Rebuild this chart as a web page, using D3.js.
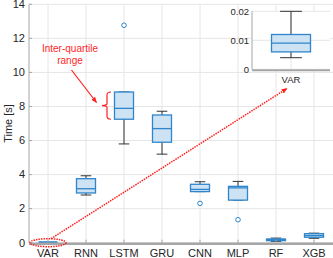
<!DOCTYPE html>
<html>
<head>
<meta charset="utf-8">
<script src="https://cdn.jsdelivr.net/npm/d3@7"></script>
<style>
  body { margin: 0; background: #fff; }
  text { font-family: "Liberation Sans", Arial, sans-serif; fill: #262626; }
</style>
</head>
<body>
<div id="chart"></div>
<script>
// box stats: [lower whisker, q1, median, q3, upper whisker]
let models = ["VAR", "RNN", "LSTM", "GRU", "CNN", "MLP", "RF", "XGB"]
let lowW = [0.004, 2.80, 5.80, 5.20, 3.00, 2.50, 0.08, 0.26]
let q1 = [0.006, 2.92, 7.25, 5.90, 3.00, 2.50, 0.12, 0.32]
let med = [0.009, 3.17, 7.89, 6.70, 3.13, 3.22, 0.18, 0.42]
let q3 = [0.012, 3.76, 8.85, 7.50, 3.43, 3.31, 0.22, 0.53]
let highW = [0.020, 3.93, 8.85, 7.72, 3.58, 3.60, 0.27, 0.56]
let outliers = [[], [], [12.77], [], [2.31], [1.35], [], []]
let yTicks = [0, 2, 4, 6, 8, 10, 12, 14]
let insetTicks = [0, 0.01, 0.02]

let W = 333, H = 258
let blue = "#2f86cc", fill = "#cde2f3", red = "#ff1f1f", grid = "#e6e6e6"

let svg = d3.select("#chart").append("svg").attr("width", W).attr("height", H)

let defs = svg.append("defs")
defs.append("marker").attr("id", "ah").attr("viewBox", "0 0 10 10")
  .attr("refX", 9).attr("refY", 5).attr("markerWidth", 6).attr("markerHeight", 6)
  .attr("orient", "auto").attr("markerUnits", "userSpaceOnUse")
  .append("path").attr("d", "M0,1L10,5L0,9Z").attr("fill", red)

let x = d3.scaleLinear().domain([0.5, 8.5]).range([29, 333])
let y = d3.scaleLinear().domain([0, 14]).range([242.7, 4.3])

// grid
svg.append("g").selectAll("line").data(yTicks).join("line")
  .attr("x1", x(0.5)).attr("x2", x(8.5)).attr("y1", d => y(d)).attr("y2", d => y(d))
  .attr("stroke", grid)
svg.append("g").selectAll("line").data(models).join("line")
  .attr("x1", (d, i) => x(i + 1)).attr("x2", (d, i) => x(i + 1))
  .attr("y1", y(0)).attr("y2", y(14)).attr("stroke", grid)

function drawBoxes(g, xs, ys, idx, cap, bw) {
  let b = g.selectAll("g.box").data(idx).join("g").attr("class", "box")
  b.append("line").attr("x1", i => xs(i + 1)).attr("x2", i => xs(i + 1))
    .attr("y1", i => ys(highW[i])).attr("y2", i => ys(lowW[i])).attr("stroke", "#333").attr("stroke-width", 1)
  b.append("line").attr("x1", i => xs(i + 1 - cap)).attr("x2", i => xs(i + 1 + cap))
    .attr("y1", i => ys(highW[i])).attr("y2", i => ys(highW[i])).attr("stroke", "#333")
  b.append("line").attr("x1", i => xs(i + 1 - cap)).attr("x2", i => xs(i + 1 + cap))
    .attr("y1", i => ys(lowW[i])).attr("y2", i => ys(lowW[i])).attr("stroke", "#333")
  b.append("rect").attr("x", i => xs(i + 1 - bw)).attr("width", i => xs(i + 1 + bw) - xs(i + 1 - bw))
    .attr("y", i => ys(q3[i])).attr("height", i => Math.max(ys(q1[i]) - ys(q3[i]), 1.5))
    .attr("fill", fill).attr("stroke", blue).attr("stroke-width", 1.3)
  b.append("line").attr("x1", i => xs(i + 1 - bw)).attr("x2", i => xs(i + 1 + bw))
    .attr("y1", i => ys(med[i])).attr("y2", i => ys(med[i])).attr("stroke", blue).attr("stroke-width", 1.3)
}

let main = svg.append("g")
drawBoxes(main, x, y, d3.range(1, 8), 0.14, 0.25)
// VAR is flat at this scale
main.append("line").attr("x1", x(0.75)).attr("x2", x(1.25)).attr("y1", y(0) - 0.5).attr("y2", y(0) - 0.5)
  .attr("stroke", blue).attr("stroke-width", 2)

let out = []
outliers.forEach((o, i) => o.forEach(v => out.push([i + 1, v])))
main.selectAll("circle").data(out).join("circle")
  .attr("cx", d => x(d[0])).attr("cy", d => y(d[1])).attr("r", 2.3)
  .attr("fill", "#fff").attr("stroke", blue).attr("stroke-width", 1)

// axes
svg.append("line").attr("x1", x(0.5)).attr("x2", x(0.5)).attr("y1", y(0)).attr("y2", y(14)).attr("stroke", "#a6a6a6")
svg.append("line").attr("x1", x(0.5)).attr("x2", x(8.5)).attr("y1", y(0) + 1).attr("y2", y(0) + 1)
  .attr("stroke", "#a6a6a6").attr("stroke-width", 2.5)
svg.append("g").selectAll("line").data(yTicks).join("line")
  .attr("x1", x(0.5)).attr("x2", x(0.5) + 3).attr("y1", d => y(d)).attr("y2", d => y(d)).attr("stroke", "#a6a6a6")
svg.append("g").selectAll("line").data(models).join("line")
  .attr("x1", (d, i) => x(i + 1)).attr("x2", (d, i) => x(i + 1))
  .attr("y1", y(0)).attr("y2", y(0) - 3).attr("stroke", "#a6a6a6")
svg.append("g").selectAll("text").data(yTicks).join("text")
  .attr("x", x(0.5) - 4).attr("y", d => y(d)).attr("dy", "0.35em")
  .attr("text-anchor", "end").style("font-size", "11px").text(d => d)
svg.append("g").selectAll("text").data(models).join("text")
  .attr("x", (d, i) => x(i + 1)).attr("y", 253).attr("dy", "0.35em")
  .attr("text-anchor", "middle").style("font-size", "11px").text(d => d)
svg.append("text").attr("transform", "translate(8," + y(7) + ") rotate(-90)")
  .attr("text-anchor", "middle").attr("dy", "0.35em").style("font-size", "11px").text("Time [s]")

// inset
let xi = d3.scaleLinear().domain([0.5, 1.5]).range([252, 330])
let yi = d3.scaleLinear().domain([0, 0.02]).range([69.3, 11.3])
svg.append("rect").attr("x", xi(0.5)).attr("y", yi(0.02)).attr("width", xi(1.5) - xi(0.5))
  .attr("height", yi(0) - yi(0.02)).attr("fill", "#fff")
let ins = svg.append("g")
ins.selectAll("line.g").data(insetTicks).join("line").attr("class", "g")
  .attr("x1", xi(0.5)).attr("x2", xi(1.5)).attr("y1", d => yi(d)).attr("y2", d => yi(d)).attr("stroke", grid)
ins.append("line").attr("x1", xi(1)).attr("x2", xi(1)).attr("y1", yi(0)).attr("y2", yi(0.02)).attr("stroke", grid)
drawBoxes(ins, xi, yi, [0], 0.14, 0.25)
ins.append("line").attr("x1", xi(0.5)).attr("x2", xi(0.5)).attr("y1", yi(0)).attr("y2", yi(0.02)).attr("stroke", "#a6a6a6")
ins.append("line").attr("x1", xi(0.5)).attr("x2", xi(1.5)).attr("y1", yi(0) + 1).attr("y2", yi(0) + 1)
  .attr("stroke", "#a6a6a6").attr("stroke-width", 2)
ins.selectAll("text.t").data(insetTicks).join("text").attr("class", "t")
  .attr("x", xi(0.5) - 3).attr("y", d => yi(d)).attr("dy", "0.35em")
  .attr("text-anchor", "end").style("font-size", "9.5px").text(d => d)
ins.append("text").attr("x", xi(1)).attr("y", 80).attr("dy", "0.35em")
  .attr("text-anchor", "middle").style("font-size", "9.5px").text(models[0])

// annotations
let ann = svg.append("g")
ann.append("text").attr("x", 70).attr("y", 48).attr("dy", "0.35em").attr("text-anchor", "middle")
  .style("font-size", "10px").style("fill", red).text("Inter-quartile")
ann.append("text").attr("x", 70).attr("y", 60).attr("dy", "0.35em").attr("text-anchor", "middle")
  .style("font-size", "10px").style("fill", red).text("range")
ann.append("line").attr("x1", 71.5).attr("y1", 70).attr("x2", 96.5).attr("y2", 102.5)
  .attr("stroke", red).attr("stroke-width", 1.2).attr("marker-end", "url(#ah)")

let bt = y(q3[2]), bb = y(q1[2]), bm = (bt + bb) / 2, bx = 107
ann.append("path")
  .attr("d", `M${bx + 4},${bt} Q${bx},${bt} ${bx},${bt + 3} L${bx},${bm - 2} Q${bx},${bm} ${bx - 5},${bm}`
    + ` Q${bx},${bm} ${bx},${bm + 2} L${bx},${bb - 3} Q${bx},${bb} ${bx + 4},${bb}`)
  .attr("fill", "none").attr("stroke", red).attr("stroke-width", 1.2)

ann.append("ellipse").attr("cx", x(1)).attr("cy", y(0)).attr("rx", 18).attr("ry", 4)
  .attr("fill", "none").attr("stroke", red).attr("stroke-width", 1.5).attr("stroke-dasharray", "1.5,1")
ann.append("line").attr("x1", x(1) + 3).attr("y1", y(0) - 4).attr("x2", 287).attr("y2", 88.5)
  .attr("stroke", red).attr("stroke-width", 1.5).attr("stroke-dasharray", "1.5,1").attr("marker-end", "url(#ah)")
</script>
</body>
</html>
